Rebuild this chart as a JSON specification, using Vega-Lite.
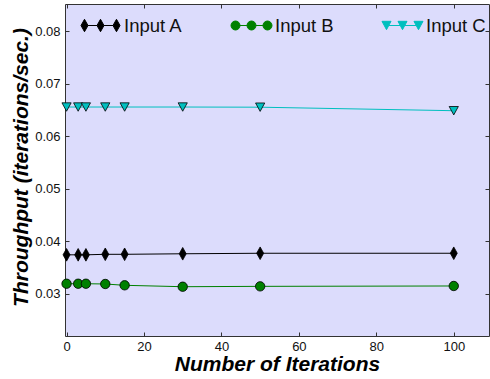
{
  "$schema": "https://vega.github.io/schema/vega-lite/v6.json",
  "width": 424,
  "height": 332,
  "autosize": {"type": "none"},
  "padding": {"left": 65, "top": 4, "right": 1, "bottom": 43},
  "background": "white",
  "config": {
    "font": "Liberation Sans",
    "view": {"fill": "#dcdcfc", "stroke": "#333333", "strokeWidth": 1},
    "axis": {"grid": false, "domain": false, "tickColor": "#333333", "tickSize": -4, "labelColor": "#111111", "labelFontSize": 13, "labelFont": "Liberation Sans"}
  },
  "data": {
    "values": [
      {"series": "Input A", "iter": 0, "tp": 0.0374},
      {"series": "Input A", "iter": 3, "tp": 0.0374},
      {"series": "Input A", "iter": 5, "tp": 0.0374},
      {"series": "Input A", "iter": 10, "tp": 0.0375},
      {"series": "Input A", "iter": 15, "tp": 0.0375},
      {"series": "Input A", "iter": 30, "tp": 0.0376},
      {"series": "Input A", "iter": 50, "tp": 0.0377},
      {"series": "Input A", "iter": 100, "tp": 0.0377},
      {"series": "Input B", "iter": 0, "tp": 0.0319},
      {"series": "Input B", "iter": 3, "tp": 0.0319},
      {"series": "Input B", "iter": 5, "tp": 0.0319},
      {"series": "Input B", "iter": 10, "tp": 0.03185},
      {"series": "Input B", "iter": 15, "tp": 0.0316},
      {"series": "Input B", "iter": 30, "tp": 0.03133},
      {"series": "Input B", "iter": 50, "tp": 0.0314},
      {"series": "Input B", "iter": 100, "tp": 0.03147},
      {"series": "Input C", "iter": 0, "tp": 0.06553},
      {"series": "Input C", "iter": 3, "tp": 0.06553},
      {"series": "Input C", "iter": 5, "tp": 0.06553},
      {"series": "Input C", "iter": 10, "tp": 0.06553},
      {"series": "Input C", "iter": 15, "tp": 0.06553},
      {"series": "Input C", "iter": 30, "tp": 0.06553},
      {"series": "Input C", "iter": 50, "tp": 0.0655},
      {"series": "Input C", "iter": 100, "tp": 0.06483}
    ]
  },
  "layer": [
    {
      "mark": {"type": "line", "strokeWidth": 1, "clip": true},
      "encoding": {
        "x": {"field": "iter", "type": "quantitative", "scale": {"domain": [-0.4, 109.1], "nice": false, "zero": false},
              "axis": {"orient": "top", "labels": false, "title": null, "values": [0, 20, 40, 60, 80, 100]}},
        "y": {"field": "tp", "type": "quantitative", "scale": {"domain": [0.02195, 0.08514], "nice": false, "zero": false},
              "axis": {"orient": "right", "labels": false, "title": null, "values": [0.03, 0.04, 0.05, 0.06, 0.07, 0.08]}},
        "color": {"field": "series", "type": "nominal",
          "scale": {"domain": ["Input A", "Input B", "Input C"], "range": ["#000000", "#008000", "#00bfbf"]},
          "legend": {
            "title": null, "orient": "none", "legendX": 13, "legendY": -1, "direction": "horizontal",
            "padding": 0, "columnPadding": 45, "labelFontSize": 18.5, "labelColor": "#111111", "labelOffset": 1,
            "symbolSize": 1936, "symbolStrokeWidth": 1,
            "encode": {
              "symbols": {
                "update": {
                  "shape": {"signal": "datum.value === 'Input A' ? 'M -0.727 -0.282 L -0.568 0 L -0.727 0.282 L -0.886 0 Z M 0 -0.282 L 0.159 0 L 0 0.282 L -0.159 0 Z M 0.727 -0.282 L 0.886 0 L 0.727 0.282 L 0.568 0 Z M -0.568 0 L -0.159 0 M 0.159 0 L 0.568 0' : datum.value === 'Input B' ? 'M -0.932 0 A 0.205 0.205 0 1 0 -0.522 0 A 0.205 0.205 0 1 0 -0.932 0 Z M -0.205 0 A 0.205 0.205 0 1 0 0.205 0 A 0.205 0.205 0 1 0 -0.205 0 Z M 0.522 0 A 0.205 0.205 0 1 0 0.932 0 A 0.205 0.205 0 1 0 0.522 0 Z M -0.522 0 L -0.205 0 M 0.205 0 L 0.522 0' : 'M -0.932 -0.19 L -0.522 -0.19 L -0.727 0.19 Z M -0.205 -0.19 L 0.205 -0.19 L 0 0.19 Z M 0.522 -0.19 L 0.932 -0.19 L 0.727 0.19 Z M -0.625 0 L -0.1 0 M 0.1 0 L 0.625 0'"},
                  "fill": {"signal": "datum.value === 'Input A' ? '#000000' : datum.value === 'Input B' ? '#008000' : '#00bfbf'"},
                  "stroke": {"signal": "datum.value === 'Input A' ? '#000000' : datum.value === 'Input B' ? '#0a4f0a' : '#138a8a'"},
                  "strokeWidth": {"value": 1},
                  "opacity": {"value": 1},
                  "fillOpacity": {"value": 1}
                }
              }
            }
          }
        }
      }
    },
    {
      "transform": [{"filter": "datum.series === 'Input A'"}],
      "mark": {"type": "point", "filled": true, "size": 159, "shape": "M 0 -1 L 0.556 0 L 0 1 L -0.556 0 Z", "fill": "#000000", "stroke": "#000000", "strokeWidth": 0.8, "opacity": 1, "fillOpacity": 1},
      "encoding": {
        "x": {"field": "iter", "type": "quantitative",
              "axis": {"orient": "bottom", "values": [0, 20, 40, 60, 80, 100], "labelPadding": 8,
                       "title": "Number of Iterations", "titleFontSize": 21, "titleFontWeight": "bold", "titleFontStyle": "italic", "titleColor": "#000000", "titleFont": "Liberation Sans",
                       "titleX": 212, "titleY": 34.7, "titleBaseline": "alphabetic", "titleAlign": "center"}},
        "y": {"field": "tp", "type": "quantitative",
              "axis": {"orient": "left", "values": [0.03, 0.04, 0.05, 0.06, 0.07, 0.08], "labelPadding": 9, "format": ".2f",
                       "title": "Throughput (iterations/sec.)", "titleFontSize": 21, "titleFontWeight": "bold", "titleFontStyle": "italic", "titleColor": "#000000", "titleFont": "Liberation Sans",
                       "titleX": -38, "titleY": 163, "titleAngle": -90, "titleBaseline": "alphabetic", "titleAlign": "center"}}
      }
    },
    {
      "transform": [{"filter": "datum.series === 'Input B'"}],
      "mark": {"type": "point", "filled": true, "size": 159, "shape": "M -0.746 0 A 0.746 0.746 0 1 0 0.746 0 A 0.746 0.746 0 1 0 -0.746 0 Z", "fill": "#008000", "stroke": "#000000", "strokeWidth": 0.8, "opacity": 1, "fillOpacity": 1},
      "encoding": {
        "x": {"field": "iter", "type": "quantitative", "axis": null},
        "y": {"field": "tp", "type": "quantitative", "axis": null}
      }
    },
    {
      "transform": [{"filter": "datum.series === 'Input C'"}],
      "mark": {"type": "point", "filled": true, "size": 159, "shape": "M -0.73 -0.667 L 0.73 -0.667 L 0 0.667 Z", "fill": "#00bfbf", "stroke": "#000000", "strokeWidth": 0.8, "opacity": 1, "fillOpacity": 1},
      "encoding": {
        "x": {"field": "iter", "type": "quantitative", "axis": null},
        "y": {"field": "tp", "type": "quantitative", "axis": null}
      }
    }
  ]
}
